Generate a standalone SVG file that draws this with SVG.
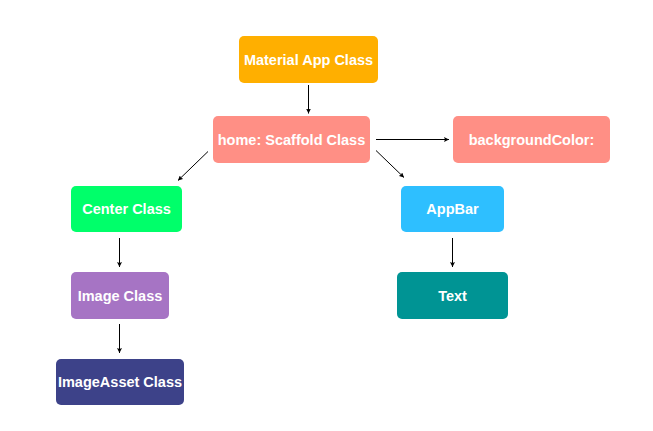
<svg xmlns="http://www.w3.org/2000/svg" width="653" height="431" viewBox="0 0 653 431">
<defs>
<marker id="ah" viewBox="0 0 10 10" refX="10" refY="5" markerWidth="5" markerHeight="5" orient="auto" markerUnits="userSpaceOnUse">
<path d="M0,0 L10,5 L0,10 L2,5 Z" fill="#000"/>
</marker>
</defs>
<style>
.n text{font-family:"Liberation Sans",Arial,sans-serif;font-weight:bold;font-size:14.5px;fill:#fff;text-anchor:middle;dominant-baseline:central}
.c line{stroke:#000;stroke-width:1;marker-end:url(#ah)}
</style>
<rect width="653" height="431" fill="#fff"/>
<g class="c" id="connectors">
<line x1="308.5" y1="85" x2="308.5" y2="113.5"/>
<line x1="376" y1="139.5" x2="449" y2="139.5"/>
<line x1="376" y1="150.5" x2="404" y2="177.5"/>
<line x1="208" y1="151.5" x2="178" y2="180.5"/>
<line x1="119.5" y1="238" x2="119.5" y2="267"/>
<line x1="119.5" y1="324" x2="119.5" y2="353"/>
<line x1="452.5" y1="238" x2="452.5" y2="267"/>
</g>
<g class="n" id="material">
<rect x="239" y="36" width="139" height="47" rx="5" fill="#FFAF00"/>
<text x="308.5" y="59.5">Material App Class</text>
</g>
<g class="n" id="scaffold">
<rect x="213" y="116" width="157" height="47" rx="5" fill="#FF8F85"/>
<text x="291.5" y="139.5">home: Scaffold Class</text>
</g>
<g class="n" id="bgcolor">
<rect x="453" y="116" width="157" height="47" rx="5" fill="#FF8F85"/>
<text x="531.5" y="139.5">backgroundColor:</text>
</g>
<g class="n" id="center">
<rect x="71" y="186" width="111" height="46" rx="5" fill="#00FF6A"/>
<text x="126.5" y="209">Center Class</text>
</g>
<g class="n" id="image">
<rect x="71" y="272" width="98" height="47" rx="5" fill="#A674C4"/>
<text x="120" y="295.5">Image Class</text>
</g>
<g class="n" id="imageasset">
<rect x="56" y="359" width="128" height="46" rx="5" fill="#3D4289"/>
<text x="120" y="382">ImageAsset Class</text>
</g>
<g class="n" id="appbar">
<rect x="401" y="186" width="103" height="46" rx="5" fill="#2EBFFF"/>
<text x="452.5" y="209">AppBar</text>
</g>
<g class="n" id="text">
<rect x="397" y="272" width="111" height="47" rx="5" fill="#009494"/>
<text x="452.5" y="295.5">Text</text>
</g>
</svg>
